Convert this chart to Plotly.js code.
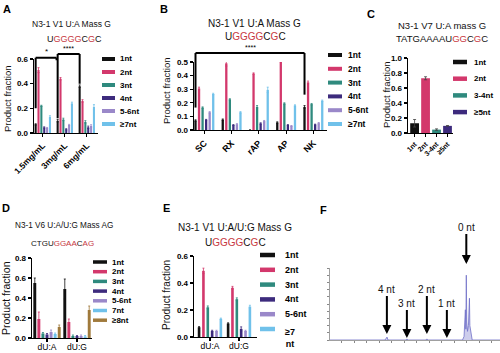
<!DOCTYPE html>
<html><head><meta charset="utf-8">
<script src="https://cdn.plot.ly/plotly-3.0.1.min.js"></script>
<style>html,body{margin:0;padding:0;background:#fff}#chart{width:500px;height:353px}</style>
</head><body><div id="chart"></div>
<script>
// ================= DATA =================
// Panel A
const catsA = ["1.5mg/mL", "3mg/mL", "6mg/mL"];
const seriesA = ["1nt", "2nt", "3nt", "4nt", "5-6nt", "≥7nt"];
const A_1nt  = [0.07, 0.10, 0.38];
const A_2nt  = [0.51, 0.44, 0.26];
const A_3nt  = [0.22, 0.11, 0.09];
const A_4nt  = [0.045, 0.03, 0.046];
const A_56nt = [0.04, 0.065, 0.057];
const A_7nt  = [0.13, 0.24, 0.21];
const A_err  = [[0.005,0.01,0.01],[0.02,0.01,0.01],[0.005,0.01,0.01],[0.005,0.005,0.01],[0.005,0.005,0.01],[0.01,0.01,0.02]];
// Panel B
const catsB = ["SC", "RX", "rAP", "AP", "NK"];
const seriesB = ["1nt", "2nt", "3nt", "4nt", "5-6nt", "≥7nt"];
const B_1nt  = [0.07, 0.076, 0.0, 0.055, 0.17];
const B_2nt  = [0.305, 0.49, 0.415, 0.51, 0.35];
const B_3nt  = [0.165, 0.225, 0.17, 0.195, 0.19];
const B_4nt  = [0.075, 0.037, 0.048, 0.037, 0.04];
const B_56nt = [0.13, 0.042, 0.065, 0.03, 0.05];
const B_7nt  = [0.265, 0.13, 0.295, 0.18, 0.215];
const B_err  = [[0.005,0.005,0,0.005,0.01],[0.01,0.02,0.005,0.01,0.01],[0.005,0.005,0.01,0.005,0.005],[0.003,0.003,0.005,0.003,0.003],[0.005,0.005,0.005,0.003,0.005],[0.005,0.005,0.02,0.005,0.005]];
// Panel C
const catsC = ["1nt", "2nt", "3-4nt", "≥5nt"];
const C_vals = [0.13, 0.73, 0.045, 0.095];
const C_err  = [0.05, 0.02, 0.01, 0.005];
// Panel D
const catsD = ["dU:A", "dU:G"];
const seriesD = ["1nt", "2nt", "3nt", "4nt", "5-6nt", "7nt", "≥8nt"];
const D_1nt  = [0.55, 0.49];
const D_2nt  = [0.19, 0.16];
const D_3nt  = [0.045, 0.02];
const D_4nt  = [0.035, 0.02];
const D_56nt = [0.06, 0.02];
const D_7nt  = [0.04, 0.015];
const D_8nt  = [0.11, 0.28];
const D_err  = [[0.05,0.1],[0.07,0.03],[0.01,0.01],[0.01,0.005],[0.02,0.01],[0.01,0.01],[0.02,0.04]];
// Panel E
const catsE = ["dU:A", "dU:G"];
const seriesE = ["1nt", "2nt", "3nt", "4nt", "5-6nt", "≥7<br>nt"];
const E_1nt  = [0.072, 0.10];
const E_2nt  = [0.49, 0.365];
const E_3nt  = [0.22, 0.28];
const E_4nt  = [0.045, 0.06];
const E_56nt = [0.045, 0.045];
const E_7nt  = [0.135, 0.225];
const E_err  = [[0.005,0.005],[0.02,0.01],[0.01,0.01],[0.005,0.015],[0.005,0.005],[0.005,0.01]];
// Panel F (mass spectrum)
const F_mz  = [4810, 5690, 5706, 5722, 5738, 6025, 6040, 6055, 6345, 6360, 6375, 6665, 6680, 6695, 6930, 6955, 6968, 6976, 6984, 6991, 6998, 7010, 7025, 7034, 7041, 7048, 7058, 7070, 7085, 7530];
const F_int = [0, 0, 2, 4, 0, 0, 1.5, 0, 0, 1.5, 0, 0, 1, 0, 0, 5, 20, 42, 15, 90, 25, 12, 20, 35, 58, 20, 15, 5, 0, 0];
const F_labels = ["4 nt", "3 nt", "2 nt", "1 nt", "0 nt"];
const F_peakMz = [5720, 6040, 6360, 6680, 6991];

// ================= STYLE =================
const W = 500, H = 353;
const FONT = "Liberation Sans, Arial, sans-serif";
const COLORS = ["#111111", "#d3386c", "#2f8a7e", "#3d2b7d", "#9a88c9", "#70c1ea", "#a07a3c"];
const RED = "#c7383f";
const px = v => v / W;
const py = v => 1 - v / H;

function groupTraces(cats, vals, errs, xa, ya, gw, f) {
  const n = vals.length, slot = gw / n;
  return vals.map((v, i) => ({
    type: "bar", x: cats, y: v, xaxis: xa, yaxis: ya,
    offset: -gw / 2 + i * slot + slot * (1 - f) / 2, width: slot * f,
    marker: {color: COLORS[i], line: {width: 0}},
    error_y: {type: "data", array: errs[i], color: COLORS[i], thickness: 0.8, width: 1},
    showlegend: false, hoverinfo: "skip"
  }));
}

const traces = [
  ...groupTraces(catsA, [A_1nt, A_2nt, A_3nt, A_4nt, A_56nt, A_7nt], A_err, "x", "y", 0.78, 0.72),
  ...groupTraces(catsB, [B_1nt, B_2nt, B_3nt, B_4nt, B_56nt, B_7nt], B_err, "x2", "y2", 0.78, 0.65),
  {type: "bar", x: catsC, y: C_vals, xaxis: "x3", yaxis: "y3", offset: -0.4, width: 0.8,
   marker: {color: COLORS.slice(0, 4), line: {width: 0}},
   error_y: {type: "data", array: C_err, color: "#444", thickness: 0.8, width: 1.5},
   showlegend: false, hoverinfo: "skip"},
  ...groupTraces(catsD, [D_1nt, D_2nt, D_3nt, D_4nt, D_56nt, D_7nt, D_8nt], D_err, "x4", "y4", 0.95, 0.72),
  ...groupTraces(catsE, [E_1nt, E_2nt, E_3nt, E_4nt, E_56nt, E_7nt], E_err, "x5", "y5", 0.9, 0.6),
  {type: "scatter", mode: "lines", x: F_mz, y: F_int, xaxis: "x6", yaxis: "y6",
   line: {color: "#7070c8", width: 0.8}, fill: "tozeroy", fillcolor: "rgba(112,112,200,0.35)",
   showlegend: false, hoverinfo: "skip"}
];

// axis helpers (pixel boxes)
function xAx(x0, x1, range, angle, fs, bold, anchor, standoff) {
  return {domain: [px(x0), px(x1)], range: range, type: "category", anchor: anchor,
    showline: true, linewidth: 1.4, linecolor: "#000", ticks: "outside", ticklen: 3, tickwidth: 1.2,
    tickcolor: "#000", tickangle: angle, showgrid: false, zeroline: false, fixedrange: true,
    ticklabelstandoff: standoff || 0,
    tickfont: {family: FONT, size: fs, color: "#000", weight: bold ? "bold" : "normal"}};
}
function yAx(top, bottom, range, dtick, fs, anchor) {
  return {domain: [py(bottom), py(top)], range: range, dtick: dtick, tick0: 0, anchor: anchor,
    showline: true, linewidth: 1.4, linecolor: "#000", ticks: "outside", ticklen: 3, tickwidth: 1.2,
    tickcolor: "#000", tickformat: ".1f", showgrid: false, zeroline: false, fixedrange: true,
    tickfont: {family: FONT, size: fs, color: "#000", weight: "bold"}};
}
const axes = {
  x:  xAx(34, 97.8, [-0.4, 2.5], -45, 8.5, true, "y"),
  y:  yAx(59, 133, [0, 0.6], 0.2, 8, "x"),
  x2: xAx(194, 327, [-0.38, 4.5], -45, 9, true, "y2"),
  y2: yAx(62, 130, [0, 0.5], 0.1, 8, "x2"),
  x3: xAx(408, 453, [-0.6, 3.5], -45, 7, true, "y3"),
  y3: yAx(58, 133, [0, 1], 0.2, 8, "x3"),
  x4: xAx(32, 92, [-0.5, 1.5], 0, 8.5, false, "y4", -3),
  y4: yAx(258, 338, [0, 0.8], 0.2, 8, "x4"),
  x5: xAx(194, 257, [-0.55, 1.62], 0, 8.5, false, "y5", -3),
  y5: yAx(256, 337, [0, 0.6], 0.2, 8, "x5")
};
axes.xaxis6 = {domain: [px(330), 1], range: [4810, 7530], anchor: "y6", showline: true, linewidth: 0.8,
  linecolor: "#888", ticks: "outside", ticklen: 2, tickcolor: "#888", dtick: 200, showticklabels: false,
  showgrid: false, zeroline: false, fixedrange: true};
axes.yaxis6 = {domain: [py(340), py(268)], range: [0, 100], anchor: "x6", showline: true, linewidth: 0.8,
  linecolor: "#888", ticks: "outside", ticklen: 2, tickcolor: "#888", dtick: 10, showticklabels: false,
  showgrid: false, zeroline: false, fixedrange: true};

const annotations = [], shapes = [];
function txt(x, y, text, size, opts) {
  annotations.push(Object.assign({xref: "paper", yref: "paper", x: px(x), y: py(y), text: text,
    showarrow: false, xanchor: "center", yanchor: "middle",
    font: {family: FONT, size: size, color: "#111"}}, opts || {}));
}
// panel letters
[["A", 7, 9], ["B", 164, 9], ["C", 371, 14], ["D", 6, 208], ["E", 166, 208], ["F", 323, 210]].forEach(
  l => txt(l[1], l[2], l[0], 11, {font: {family: FONT, size: 11, color: "#000", weight: "bold"}}));
// titles
const r = s => '<span style="color:' + RED + '">' + s + '</span>';
txt(71, 24, "N3-1 V1 U:A Mass G", 8.5);
txt(74, 39, "U" + r("GGGG") + "C" + r("G") + "C", 9);
txt(254, 24, "N3-1 V1 U:A Mass G", 10);
txt(255, 37, "U" + r("GGGG") + "C" + r("G") + "C", 10);
txt(442, 25, "N3-1 V7 U:A mass G", 9.5);
txt(442, 39, "TATGAAAAU" + r("GG") + "C" + r("G") + "C", 9.5);
txt(64, 225, "N3-1 V6 U:A/U:G Mass AG", 8.2);
txt(62, 243, "CTGU" + r("GGAA") + "C" + r("AG"), 8);
txt(235, 227, "N3-1 V1 U:A/U:G Mass G", 10);
txt(235, 242, "U" + r("GGGG") + "C" + r("G") + "C", 10);
// y titles
[[8, 99, 9.5], [166, 91, 9.5], [387, 95, 9.5], [6, 298, 10.5], [166, 295, 10]].forEach(
  t => txt(t[0], t[1], "Product fraction", t[2], {textangle: -90}));
// legends
function legend(names, x0, x1, tx, y0, dy, h, fs) {
  names.forEach((n, i) => {
    const y = y0 + i * dy;
    shapes.push({type: "rect", xref: "paper", yref: "paper", x0: px(x0), x1: px(x1),
      y0: py(y - h / 2), y1: py(y + h / 2), fillcolor: COLORS[i], line: {width: 0}});
    const multi = n.indexOf("<br>") >= 0;
    txt(tx, multi ? y - 4 : y, n, fs, {xanchor: "left", yanchor: multi ? "top" : "middle",
      font: {family: FONT, size: fs, color: "#000", weight: "bold"}});
  });
}
legend(seriesA, 102, 115, 118, 59, 13, 4, 8);
legend(seriesB, 328, 342, 346, 55, 13.8, 4, 8.5);
legend(catsC, 453, 467, 472, 62, 16.7, 4.5, 8);
legend(seriesD, 93, 107, 110, 262, 9.7, 3.5, 8);
legend(seriesE, 260, 275, 283, 255, 14.8, 4.5, 9);

// significance brackets (x in category units, y from data values)
function ypv(axis, v) { const d = axes[axis].domain, rg = axes[axis].range; return d[0] + (v - rg[0]) / (rg[1] - rg[0]) * (d[1] - d[0]); }
function bracket(xr, yax, xa, xb, top, legA, legB) {
  const L = {color: "#000", width: 2};
  shapes.push({type: "line", xref: xr, yref: "paper", x0: xa, x1: xa, y0: ypv(yax, legA), y1: ypv(yax, top), line: L});
  shapes.push({type: "line", xref: xr, yref: "paper", x0: xa, x1: xb, y0: ypv(yax, top), y1: ypv(yax, top), line: L});
  shapes.push({type: "line", xref: xr, yref: "paper", x0: xb, x1: xb, y0: ypv(yax, legB), y1: ypv(yax, top), line: L});
}
const blkA = -0.39 + 0.78 / 12, blkB = -0.39 + 0.78 / 12;
bracket("x", "y", blkA, 1 + blkA - 0.05, 0.61, 0.2, 0.59);
bracket("x", "y", 1 + blkA, 2 + blkA, 0.64, 0.12, 0.4);
annotations.push({xref: "x", yref: "paper", x: (2 * blkA + 1) / 2, y: ypv("y", 0.61), text: "*", showarrow: false,
  yanchor: "bottom", font: {family: FONT, size: 8, color: "#000"}});
annotations.push({xref: "x", yref: "paper", x: 1.5 + blkA, y: ypv("y", 0.64), text: "****", showarrow: false,
  yanchor: "bottom", font: {family: FONT, size: 7, color: "#000"}});
bracket("x2", "y2", blkB, 4 + blkB, 0.566, 0.165, 0.26);
annotations.push({xref: "x2", yref: "paper", x: 2 + blkB, y: ypv("y2", 0.566), text: "****", showarrow: false,
  yanchor: "bottom", font: {family: FONT, size: 7, color: "#000"}});

// Panel F arrows
const tipY = [334, 338, 334, 338, 264];
const textY = [289, 303, 289, 303, 227];
F_labels.forEach((lab, i) => {
  annotations.push({xref: "x6", yref: "paper", x: F_peakMz[i], y: py(tipY[i]), text: lab,
    showarrow: true, ax: 0, ay: textY[i] - tipY[i], arrowhead: 2, arrowsize: 0.9, arrowwidth: 2,
    arrowcolor: "#000", font: {family: FONT, size: 10, color: "#111"}});
});

const layout = Object.assign({
  width: W, height: H, margin: {l: 0, r: 0, t: 0, b: 0}, paper_bgcolor: "#fff", plot_bgcolor: "#fff",
  barmode: "overlay", showlegend: false, annotations: annotations, shapes: shapes
}, {
  xaxis: axes.x, yaxis: axes.y, xaxis2: axes.x2, yaxis2: axes.y2, xaxis3: axes.x3, yaxis3: axes.y3,
  xaxis4: axes.x4, yaxis4: axes.y4, xaxis5: axes.x5, yaxis5: axes.y5, xaxis6: axes.xaxis6, yaxis6: axes.yaxis6
});
Plotly.newPlot("chart", traces, layout, {staticPlot: true, displayModeBar: false});
</script></body></html>
